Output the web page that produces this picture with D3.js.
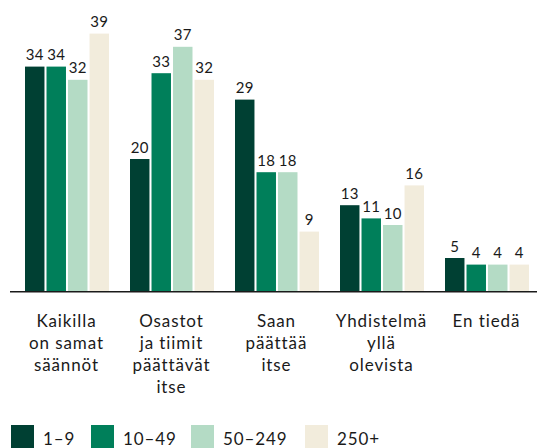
<!DOCTYPE html>
<html>
<head>
<meta charset="utf-8">
<script src="https://cdn.jsdelivr.net/npm/d3@7"></script>
<style>
  html, body { margin: 0; padding: 0; background: #ffffff; }
  svg { display: block; font-family: "Lato", "Noto Sans", sans-serif; }
</style>
</head>
<body>
<svg id="chart" width="538" height="448"></svg>
<script>
// Answer categories (multi-line labels)
const categories = [
  ["Kaikilla", "on samat", "säännöt"],
  ["Osastot", "ja tiimit", "päättävät", "itse"],
  ["Saan", "päättää", "itse"],
  ["Yhdistelmä", "yllä", "olevista"],
  ["En tiedä"]
];
// Company size groups
const seriesNames = ["1–9", "10–49", "50–249", "250+"];
// Percentages per size group, one value per category
const values1to9 = [34, 20, 29, 13, 5];
const values10to49 = [34, 33, 18, 11, 4];
const values50to249 = [32, 37, 18, 10, 4];
const values250plus = [39, 32, 9, 16, 4];
const seriesValues = [values1to9, values10to49, values50to249, values250plus];
const colors = ["#004033", "#007f5a", "#b4dbc5", "#f2ecdc"];

const svg = d3.select("#chart");
const baseline = 291;

const x0 = d3.scaleBand()
  .domain(d3.range(categories.length))
  .range([13.5, 538.5])
  .paddingInner(23 / 105)
  .paddingOuter(11.5 / 105);

const x1 = d3.scaleBand()
  .domain(d3.range(seriesNames.length))
  .range([0, x0.bandwidth() + 2])
  .paddingInner(2 / 21)
  .paddingOuter(0);

const y = d3.scaleLinear().domain([0, 40]).range([baseline, 27]);

const groups = svg.append("g").selectAll("g")
  .data(categories.map((c, i) => ({ i, vals: seriesValues.map((s, k) => ({ k, v: s[i] })) })))
  .join("g")
  .attr("transform", d => `translate(${x0(d.i)},0)`);

groups.selectAll("rect")
  .data(d => d.vals)
  .join("rect")
  .attr("x", d => x1(d.k))
  .attr("width", x1.bandwidth())
  .attr("y", d => y(d.v))
  .attr("height", d => baseline - y(d.v))
  .attr("fill", d => colors[d.k]);

groups.selectAll("text.val")
  .data(d => d.vals)
  .join("text")
  .attr("class", "val")
  .attr("x", d => x1(d.k) + x1.bandwidth() / 2)
  .attr("y", d => y(d.v) - 6.5)
  .attr("text-anchor", "middle")
  .attr("font-size", 15)
  .attr("letter-spacing", 0.3)
  .attr("fill", "#1a1a1a")
  .text(d => d.v);

// Baseline axis
svg.append("line")
  .attr("x1", 10).attr("x2", 537)
  .attr("y1", baseline + 0.75).attr("y2", baseline + 0.75)
  .attr("stroke", "#1a1a1a").attr("stroke-width", 1.5);

// Category labels
const labels = svg.append("g").selectAll("text.cat")
  .data(categories)
  .join("text")
  .attr("class", "cat")
  .attr("text-anchor", "middle")
  .attr("font-size", 17)
  .attr("letter-spacing", 0.9)
  .attr("fill", "#1a1a1a")
  .attr("transform", (d, i) => `translate(${x0(i) + x0.bandwidth() / 2 + 0.45},327)`);
labels.selectAll("tspan")
  .data(d => d)
  .join("tspan")
  .attr("x", 0)
  .attr("y", (d, j) => j * 22)
  .text(d => d);

// Legend
const legendX = [11, 91, 191, 305];
const legend = svg.append("g").selectAll("g")
  .data(seriesNames)
  .join("g")
  .attr("transform", (d, i) => `translate(${legendX[i]},425)`);
legend.append("rect")
  .attr("width", 23).attr("height", 23)
  .attr("fill", (d, i) => colors[i]);
legend.append("text")
  .attr("x", 32).attr("y", 20)
  .attr("font-size", 17)
  .attr("letter-spacing", 0.9)
  .attr("fill", "#1a1a1a")
  .text(d => d);
</script>
</body>
</html>
